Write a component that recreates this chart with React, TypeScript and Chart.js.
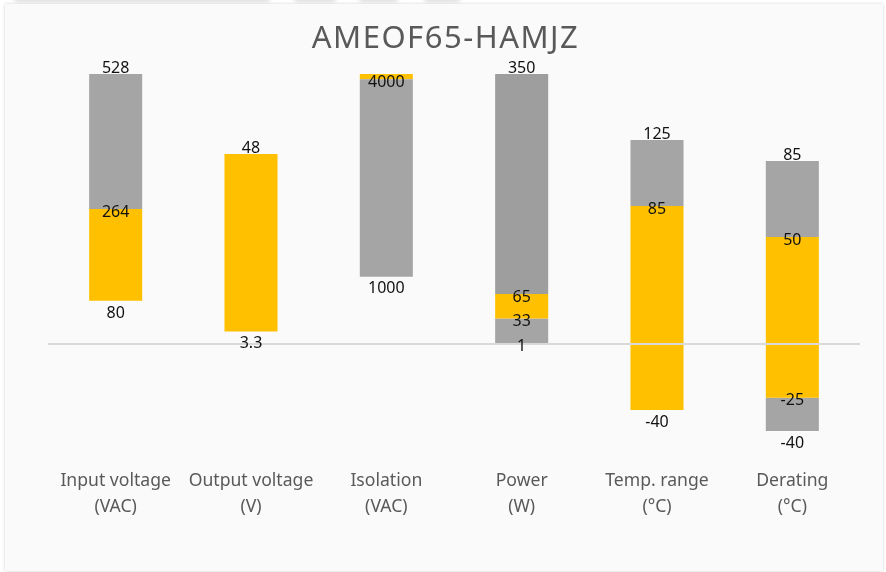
import React, { useEffect, useRef } from "react";
import { Chart, registerables } from "chart.js";

Chart.register(...registerables);

const chartTitle = "AMEOF65-HAMJZ";

const categories: string[][] = [
  ["Input voltage", "(VAC)"],
  ["Output voltage", "(V)"],
  ["Isolation", "(VAC)"],
  ["Power", "(W)"],
  ["Temp. range", "(°C)"],
  ["Derating", "(°C)"],
];

// Bar segment ranges on the chart's normalised height scale (tallest bar = 100)
const grayUpper: ([number, number] | null)[] = [
  [50, 100],
  null,
  [24.9, 98.1],
  [18.5, 100],
  [51.1, 75.6],
  [39.6, 67.8],
];
const yellowBand: ([number, number] | null)[] = [
  [16, 50],
  [4.6, 70.4],
  [98.1, 100],
  [9.4, 18.5],
  [-24.4, 51.1],
  [-19.9, 39.6],
];
const grayLower: ([number, number] | null)[] = [
  null,
  null,
  null,
  [0.3, 9.4],
  null,
  [-32.2, -19.9],
];

// Value labels, the level each one marks, and where it sits relative to that level
const valueLabels: string[][] = [
  ["528", "264", "80"],
  ["48", "3.3"],
  ["4000", "1000"],
  ["350", "65", "33", "1"],
  ["125", "85", "-40"],
  ["85", "50", "-25", "-40"],
];
const labelLevels: number[][] = [
  [100, 50, 16],
  [70.4, 4.6],
  [98.1, 24.9],
  [100, 18.5, 9.4, 0.3],
  [75.6, 51.1, -24.4],
  [67.8, 39.6, -19.9, -32.2],
];
const labelPlacement: string[][] = [
  ["above", "at", "below"],
  ["above", "below"],
  ["at", "below"],
  ["above", "at", "at", "at"],
  ["above", "at", "below"],
  ["above", "at", "at", "below"],
];

const GRAY = "#a5a5a5";
const GRAY_DARK = "#9e9e9e";
const YELLOW = "#ffc000";
const FONT = "'Noto Sans', 'Open Sans', sans-serif";

const overlayPlugin = {
  id: "overlay",
  afterDatasetsDraw(chart: any) {
    const { ctx, chartArea, scales } = chart;
    const x = scales.x;
    const y = scales.y;
    ctx.save();
    // horizontal zero axis, drawn over the bars
    const y0 = y.getPixelForValue(0);
    ctx.strokeStyle = "#d9d9d9";
    ctx.lineWidth = 2;
    ctx.beginPath();
    ctx.moveTo(chartArea.left, y0);
    ctx.lineTo(chartArea.right, y0);
    ctx.stroke();

    // value labels
    ctx.font = `16px ${FONT}`;
    ctx.fillStyle = "#111111";
    ctx.textAlign = "center";
    ctx.textBaseline = "alphabetic";
    valueLabels.forEach((labels, i) => {
      const cx = x.getPixelForValue(i);
      labels.forEach((txt, j) => {
        const py = y.getPixelForValue(labelLevels[i][j]);
        const p = labelPlacement[i][j];
        const center = p === "above" ? py - 7 : p === "below" ? py + 11 : py + 2;
        ctx.fillText(txt, cx, center + 5.7);
      });
    });

    // category labels
    ctx.font = `17.6px ${FONT}`;
    ctx.fillStyle = "#595959";
    categories.forEach((lines, i) => {
      const cx = x.getPixelForValue(i);
      lines.forEach((ln, k) => {
        ctx.fillText(ln, cx, 486 + k * 25.7);
      });
    });

    // title
    ctx.font = `31px ${FONT}`;
    ctx.fillStyle = "#595959";
    try {
      (ctx as any).letterSpacing = "1.5px";
    } catch (e) {}
    ctx.fillText(chartTitle, 445.5, 48);
    ctx.restore();
  },
};

export default function App() {
  const canvasRef = useRef<HTMLCanvasElement | null>(null);

  useEffect(() => {
    document.body.style.margin = "0";
    document.body.style.background = "#ffffff";
    const canvas = canvasRef.current;
    if (!canvas) return;
    const chart = new Chart(canvas, {
      type: "bar",
      data: {
        labels: categories.map((c) => c.join(" ")),
        datasets: [
          {
            label: "upper",
            data: grayUpper as any,
            backgroundColor: grayUpper.map((_, i) => (i === 3 ? GRAY_DARK : GRAY)),
            borderWidth: 0,
            barPercentage: 0.392,
            categoryPercentage: 1,
          },
          {
            label: "band",
            data: yellowBand as any,
            backgroundColor: YELLOW,
            borderWidth: 0,
            barPercentage: 0.392,
            categoryPercentage: 1,
          },
          {
            label: "lower",
            data: grayLower as any,
            backgroundColor: GRAY,
            borderWidth: 0,
            barPercentage: 0.392,
            categoryPercentage: 1,
          },
        ],
      },
      options: {
        responsive: false,
        animation: false,
        devicePixelRatio: 1,
        layout: { padding: { left: 48, right: 26, top: 60.5, bottom: 120 } },
        plugins: {
          legend: { display: false },
          tooltip: { enabled: false },
          title: { display: false },
        },
        scales: {
          x: { display: false, stacked: true },
          y: { display: false, stacked: false, min: -40, max: 105 },
        },
      },
      plugins: [overlayPlugin],
    });
    return () => chart.destroy();
  }, []);

  const strip = (left: number, width: number) => (
    <div
      style={{
        position: "absolute",
        left,
        width,
        top: -20,
        height: 20,
        background: "#ffffff",
        boxShadow: "0 1px 4px rgba(0,0,0,0.18)",
        borderRadius: 3,
      }}
    />
  );

  return (
    <div style={{ position: "relative", width: 886, height: 572, overflow: "hidden", background: "#ffffff" }}>
      {strip(14, 256)}
      {strip(294, 42)}
      {strip(359, 39)}
      {strip(424, 36)}
      <div
        style={{
          position: "absolute",
          left: 5,
          top: 4,
          width: 878,
          height: 567,
          background: "#fafafa",
          boxShadow: "0 0 3px rgba(0,0,0,0.18)",
        }}
      />
      <canvas
        ref={canvasRef}
        width={886}
        height={572}
        style={{ position: "absolute", left: 0, top: 0, width: 886, height: 572 }}
      />
    </div>
  );
}
